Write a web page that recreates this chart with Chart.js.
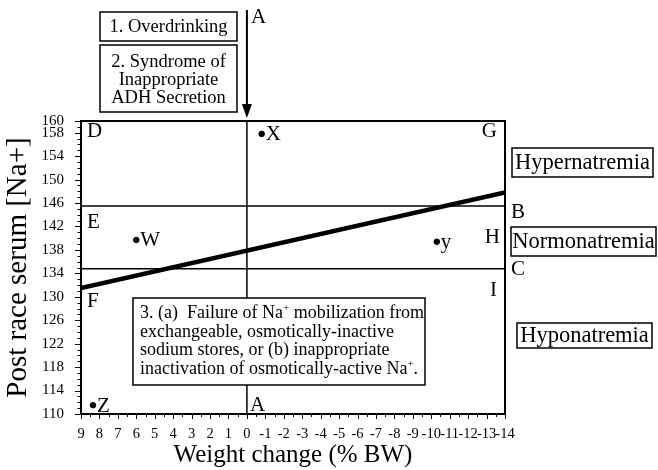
<!DOCTYPE html>
<html><head><meta charset="utf-8">
<script src="https://cdn.jsdelivr.net/npm/chart.js@4"></script>
<style>html,body{margin:0;padding:0;background:#fff}#wrap{width:658px;height:470px;position:relative}</style>
</head><body><div id="wrap"><canvas id="c" width="658" height="470"></canvas></div>
<script>
// ---- data ----
const xMin = -14, xMax = 9;
const yMin = 110, yMax = 160;
const yTickLabels = [160,158,154,150,146,142,138,134,130,126,122,118,114,110];
const trendX = [9, -14];
const trendY = [131.5, 147.8];
const normoBounds = [134.8, 145.5];
const lineAx = 0;
const subjects = ['X','W','y','Z'];
const subjectX = [-0.8, 6.0, -10.3, 8.35];
const subjectY = [157.8, 139.7, 139.4, 111.5];

const SERIF = '"Liberation Serif", "Times New Roman", serif';
const f = (s) => s + 'px ' + SERIF;

const trendData = trendX.map((x,i)=>({x, y: trendY[i]}));
const subjData = subjectX.map((x,i)=>({x, y: subjectY[i]}));
const hLines = normoBounds.map(v => ({
  type:'line', data:[{x:xMax,y:v},{x:xMin,y:v}], borderColor:'#000', borderWidth:1.5,
  pointRadius:0, fill:false, tension:0
}));

const overlay = {
  id:'overlay',
  afterDraw(chart){
    const ctx = chart.ctx, ca = chart.chartArea;
    const xs = chart.scales.x, ys = chart.scales.y;
    ctx.save();
    ctx.strokeStyle = '#000'; ctx.fillStyle = '#000';
    // ticks
    ctx.lineWidth = 1;
    for (let v = xMin; v <= xMax + 1e-9; v += 0.5) {
      const px = Math.round(xs.getPixelForValue(v)) + 0.5;
      const len = Number.isInteger(v) ? 5 : 3;
      ctx.beginPath(); ctx.moveTo(px, ca.bottom); ctx.lineTo(px, ca.bottom + len); ctx.stroke();
    }
    for (let v = yMin; v <= yMax; v += 1) {
      const py = Math.round(ys.getPixelForValue(v)) + 0.5;
      const len = yTickLabels.includes(v) ? 6 : 3.5;
      ctx.beginPath(); ctx.moveTo(ca.left - len, py); ctx.lineTo(ca.left, py); ctx.stroke();
    }
    // frame top & right
    ctx.lineWidth = 2;
    ctx.beginPath();
    ctx.moveTo(ca.left, ca.top); ctx.lineTo(ca.right, ca.top); ctx.lineTo(ca.right, ca.bottom);
    ctx.stroke();

    // arrow above line A
    const ax = xs.getPixelForValue(lineAx);
    ctx.lineWidth = 2;
    ctx.beginPath(); ctx.moveTo(ax, 10); ctx.lineTo(ax, ca.top - 8); ctx.stroke();
    ctx.beginPath(); ctx.moveTo(ax - 5, ca.top - 17); ctx.lineTo(ax + 5, ca.top - 17); ctx.lineTo(ax, ca.top - 3); ctx.closePath(); ctx.fill();

    function box(x1,y1,x2,y2,lw){
      ctx.fillStyle = '#fff'; ctx.fillRect(x1,y1,x2-x1,y2-y1);
      ctx.fillStyle = '#000'; ctx.lineWidth = lw || 1.5; ctx.strokeRect(x1,y1,x2-x1,y2-y1);
    }
    function txt(s, x, y, size, align){
      ctx.font = f(size); ctx.textAlign = align || 'center'; ctx.textBaseline = 'middle';
      ctx.fillStyle = '#000'; ctx.fillText(s, x, y);
    }
    // top boxes
    box(100, 12, 237, 41);
    txt('1. Overdrinking', 168.5, 27, 18.5);
    box(100, 45, 237, 112);
    txt('2. Syndrome of', 168.5, 62, 18.5);
    txt('Inappropriate', 168.5, 80, 18.5);
    txt('ADH Secretion', 168.5, 98, 18.5);

    // right boxes
    box(512, 148, 653, 177);
    txt('Hypernatremia', 582.5, 163, 22.5);
    box(511, 227, 656, 256);
    txt('Normonatremia', 583.5, 242, 22.5);
    box(517, 323, 652, 348);
    txt('Hyponatremia', 584.5, 336, 22.5);

    // box 3 (rich text with superscripts)
    box(133, 298, 425, 385);
    const lines = [
      [['3. (a)  Failure of Na',0],['+',1],[' mobilization from',0]],
      [['exchangeable, osmotically-inactive',0]],
      [['sodium stores, or (b) inappropriate',0]],
      [['inactivation of osmotically-active Na',0],['+',1],['.',0]]
    ];
    const lys = [313, 332, 350.5, 369];
    ctx.textAlign = 'left'; ctx.textBaseline = 'middle'; ctx.fillStyle = '#000';
    lines.forEach((segs, i) => {
      let x = 140;
      segs.forEach(([s, sup]) => {
        ctx.font = f(sup ? 11 : 18);
        ctx.fillText(s, x, lys[i] - (sup ? 5 : 0));
        x += ctx.measureText(s).width;
      });
    });

    // region letters
    txt('D', ca.left + 6, 131, 21, 'left');
    txt('G', ca.right - 8, 131, 21, 'right');
    txt('E', ca.left + 6, 222, 21, 'left');
    txt('H', ca.right - 5, 237, 21, 'right');
    txt('F', ca.left + 6, 301, 21, 'left');
    txt('I', ca.right - 8, 290, 21, 'right');
    txt('A', ax + 4, 17, 21, 'left');
    txt('A', ax + 3, 405, 21, 'left');
    txt('B', ca.right + 6, 212, 21, 'left');
    txt('C', ca.right + 6, 269, 21, 'left');

    // subject labels
    subjects.forEach((s, i) => {
      const px = xs.getPixelForValue(subjectX[i]);
      const py = ys.getPixelForValue(subjectY[i]);
      txt(s, px + 4, py + 1, 21, 'left');
    });
    ctx.restore();
  }
};

new Chart(document.getElementById('c'), {
  type: 'scatter',
  data: {
    datasets: [
      { type:'line', data: trendData, borderColor:'#000', borderWidth:4.5, pointRadius:0, fill:false, tension:0 },
      ...hLines,
      { type:'line', data:[{x:lineAx,y:yMin},{x:lineAx,y:yMax}], borderColor:'#000', borderWidth:1.5, pointRadius:0, fill:false },
      { type:'scatter', data: subjData, backgroundColor:'#000', borderColor:'#000', pointRadius:2.8, pointHoverRadius:2.8 }
    ]
  },
  options: {
    responsive:false, animation:false, devicePixelRatio:1,
    layout:{ padding:{ top:121, right:153, left:0, bottom:0 } },
    plugins:{ legend:{display:false}, tooltip:{enabled:false} },
    scales:{
      x:{
        type:'linear', reverse:true, min:xMin, max:xMax,
        afterFit(s){ s.height = 56; },
        grid:{ display:false },
        border:{ display:true, color:'#000', width:2 },
        ticks:{ stepSize:1, autoSkip:false, maxRotation:0, padding:3, color:'#000',
                font:{ family:SERIF, size:14.5 }, callback:(v)=>String(v) },
        title:{ display:true, text:'Weight change (% BW)', color:'#000',
                font:{ family:SERIF, size:25 }, padding:{top:0,bottom:0} }
      },
      y:{
        type:'linear', min:yMin, max:yMax,
        afterFit(s){ s.width = 81; },
        grid:{ display:false },
        border:{ display:true, color:'#000', width:2 },
        ticks:{ stepSize:1, autoSkip:false, padding:9, color:'#000',
                font:{ family:SERIF, size:15 },
                callback:(v)=> yTickLabels.includes(v) ? String(v) : '' },
        title:{ display:true, text:'Post race serum [Na+]', color:'#000',
                font:{ family:SERIF, size:29 }, padding:{top:1,bottom:0} }
      }
    }
  },
  plugins:[overlay]
});
</script>
</body></html>
